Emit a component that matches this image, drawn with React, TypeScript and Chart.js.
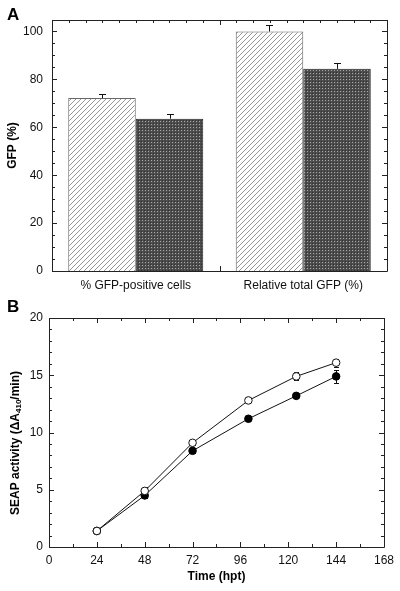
import React, { useEffect, useRef } from "react";
import { Chart, registerables } from "chart.js";

Chart.register(...registerables);

// ---------- Panel A data ----------
const categories = ["% GFP-positive cells", "Relative total GFP (%)"];
const hatchedValues = [72.2, 100];
const hatchedErrors = [1.8, 2.9];
const darkValues = [63.6, 84.4];
const darkErrors = [2.1, 2.6];
const gfpTicks = [0, 20, 40, 60, 80, 100];
const gfpMax = 104.8;

// ---------- Panel B data ----------
const timePoints = [24, 48, 72, 100, 124, 144];
const openValues = [1.4, 4.9, 9.1, 12.8, 14.9, 16.1];
const openErrors = [0.1, 0.3, 0.2, 0.2, 0.35, 0.35];
const filledValues = [1.4, 4.5, 8.4, 11.2, 13.2, 14.9];
const filledErrors = [0.1, 0.2, 0.2, 0.2, 0.2, 0.55];
const timeTickStep = 24;
const seapTickStep = 5;

const FONT = "'Liberation Sans', Arial, Helvetica, sans-serif";

function makeHatch(): CanvasPattern | string {
  const c = document.createElement("canvas");
  c.width = 5;
  c.height = 5;
  const g = c.getContext("2d");
  if (!g) return "#ddd";
  g.fillStyle = "#ffffff";
  g.fillRect(0, 0, 5, 5);
  g.strokeStyle = "#8a8a8a";
  g.lineWidth = 0.9;
  g.beginPath();
  g.moveTo(-1, 6);
  g.lineTo(6, -1);
  g.moveTo(-1, 1);
  g.lineTo(1, -1);
  g.moveTo(4, 6);
  g.lineTo(6, 4);
  g.stroke();
  return g.createPattern(c, "repeat") || "#ddd";
}

function makeDots(): CanvasPattern | string {
  const c = document.createElement("canvas");
  c.width = 3;
  c.height = 3;
  const g = c.getContext("2d");
  if (!g) return "#555";
  g.fillStyle = "#4c4c4c";
  g.fillRect(0, 0, 3, 3);
  g.fillStyle = "#a8a8a8";
  g.fillRect(1, 1, 1, 1);
  g.fillStyle = "#323232";
  g.fillRect(0, 0, 1, 1);
  return g.createPattern(c, "repeat") || "#555";
}

function tickLine(ctx: CanvasRenderingContext2D, x1: number, y1: number, x2: number, y2: number) {
  ctx.moveTo(x1, y1);
  ctx.lineTo(x2, y2);
}

const panelAPlugin = {
  id: "panelA",
  afterDatasetsDraw(chart: any) {
    const ctx: CanvasRenderingContext2D = chart.ctx;
    const { left, right, top, bottom } = chart.chartArea;
    const x = chart.scales.x;
    const y = chart.scales.y;
    ctx.save();
    ctx.strokeStyle = "#111";
    ctx.lineWidth = 1;
    const sets = [
      { vals: hatchedValues, errs: hatchedErrors, idx: 0 },
      { vals: darkValues, errs: darkErrors, idx: 1 },
    ];
    sets.forEach((s) => {
      const meta = chart.getDatasetMeta(s.idx);
      meta.data.forEach((bar: any, i: number) => {
        const px = Math.round(bar.x) + 0.5;
        const y0 = y.getPixelForValue(s.vals[i]);
        const y1 = Math.round(y.getPixelForValue(s.vals[i] + s.errs[i])) + 0.5;
        ctx.beginPath();
        tickLine(ctx, px, y0, px, y1);
        tickLine(ctx, px - 3.5, y1, px + 3.5, y1);
        ctx.stroke();
      });
    });
    ctx.strokeStyle = "#222";
    ctx.beginPath();
    ctx.rect(Math.round(left) + 0.5, Math.round(top) + 0.5, Math.round(right - left), Math.round(bottom - top));
    ctx.stroke();
    ctx.beginPath();
    for (let v = 0; v <= 100; v += 5) {
      const py = Math.round(y.getPixelForValue(v)) + 0.5;
      const len = v % 20 === 0 ? 5 : 3;
      tickLine(ctx, left, py, left + len, py);
      tickLine(ctx, right, py, right - len, py);
    }
    for (let k = 0; k <= 20; k++) {
      const px = Math.round(x.getPixelForValue(-0.5 + k * 0.1)) + 0.5;
      const len = k === 10 ? 5 : 3;
      tickLine(ctx, px, top, px, top + len);
    }
    const mid = Math.round(x.getPixelForValue(0.5)) + 0.5;
    tickLine(ctx, mid, bottom, mid, bottom - 5);
    ctx.stroke();
    ctx.fillStyle = "#000";
    ctx.font = `bold 17px ${FONT}`;
    ctx.textBaseline = "alphabetic";
    ctx.textAlign = "left";
    ctx.fillText("A", 7, 20);
    ctx.restore();
  },
};

const panelBPlugin = {
  id: "panelB",
  beforeDatasetsDraw(chart: any) {
    const ctx: CanvasRenderingContext2D = chart.ctx;
    const x = chart.scales.x;
    const y = chart.scales.y;
    ctx.save();
    ctx.strokeStyle = "#111";
    ctx.lineWidth = 1;
    const sets = [
      { vals: openValues, errs: openErrors },
      { vals: filledValues, errs: filledErrors },
    ];
    ctx.beginPath();
    sets.forEach((s) => {
      timePoints.forEach((t, i) => {
        const px = Math.round(x.getPixelForValue(t)) + 0.5;
        const yHi = Math.round(y.getPixelForValue(s.vals[i] + s.errs[i])) + 0.5;
        const yLo = Math.round(y.getPixelForValue(s.vals[i] - s.errs[i])) + 0.5;
        tickLine(ctx, px, yLo, px, yHi);
        tickLine(ctx, px - 2.5, yHi, px + 2.5, yHi);
        tickLine(ctx, px - 2.5, yLo, px + 2.5, yLo);
      });
    });
    ctx.stroke();
    ctx.restore();
  },
  afterDraw(chart: any) {
    const ctx: CanvasRenderingContext2D = chart.ctx;
    const { left, right, top, bottom } = chart.chartArea;
    const x = chart.scales.x;
    const y = chart.scales.y;
    ctx.save();
    ctx.strokeStyle = "#222";
    ctx.lineWidth = 1;
    ctx.beginPath();
    ctx.rect(Math.round(left) + 0.5, Math.round(top) + 0.5, Math.round(right - left), Math.round(bottom - top));
    ctx.stroke();
    ctx.beginPath();
    for (let v = 0; v <= 20; v += 1) {
      const py = Math.round(y.getPixelForValue(v)) + 0.5;
      const len = v % seapTickStep === 0 ? 5 : 3;
      tickLine(ctx, left, py, left + len, py);
      tickLine(ctx, right, py, right - len, py);
    }
    for (let t = 0; t <= 168; t += 12) {
      const px = Math.round(x.getPixelForValue(t)) + 0.5;
      const len = t % timeTickStep === 0 ? 5 : 3;
      tickLine(ctx, px, bottom, px, bottom - len);
      tickLine(ctx, px, top, px, top + len);
    }
    ctx.stroke();
    ctx.fillStyle = "#000";
    ctx.translate(16, 153);
    ctx.rotate(-Math.PI / 2);
    const big = `bold 12px ${FONT}`;
    const small = `bold 8px ${FONT}`;
    const parts: { t: string; f: string; dy: number }[] = [
      { t: "SEAP activity (\u0394A", f: big, dy: 0 },
      { t: "410", f: small, dy: 2.5 },
      { t: "/min)", f: big, dy: 0 },
    ];
    let total = 0;
    parts.forEach((p) => {
      ctx.font = p.f;
      total += ctx.measureText(p.t).width;
    });
    let cx = -total / 2;
    ctx.textBaseline = "middle";
    ctx.textAlign = "left";
    parts.forEach((p) => {
      ctx.font = p.f;
      ctx.fillText(p.t, cx, p.dy);
      cx += ctx.measureText(p.t).width;
    });
    ctx.restore();
    ctx.save();
    ctx.fillStyle = "#000";
    ctx.font = `bold 17px ${FONT}`;
    ctx.textBaseline = "alphabetic";
    ctx.fillText("B", 7, 22);
    ctx.restore();
  },
};

export default function App() {
  const refA = useRef<HTMLCanvasElement | null>(null);
  const refB = useRef<HTMLCanvasElement | null>(null);

  useEffect(() => {
    if (!refA.current || !refB.current) return;
    const hatch = makeHatch();
    const dots = makeDots();
    const tickFont = { family: FONT, size: 12 };
    const titleFont = { family: FONT, size: 12, weight: "bold" as const };

    const chartA = new Chart(refA.current, {
      type: "bar",
      data: {
        labels: categories,
        datasets: [
          {
            data: hatchedValues,
            backgroundColor: hatch as any,
            borderColor: "#666",
            borderWidth: 1,
            categoryPercentage: 0.806,
            barPercentage: 1,
          },
          {
            data: darkValues,
            backgroundColor: dots as any,
            borderColor: "#222",
            borderWidth: 1,
            categoryPercentage: 0.806,
            barPercentage: 1,
          },
        ],
      },
      options: {
        responsive: false,
        animation: false,
        devicePixelRatio: 1,
        layout: { padding: { left: 0, right: 13, top: 20, bottom: 0 } },
        plugins: { legend: { display: false }, tooltip: { enabled: false } },
        scales: {
          x: {
            grid: { display: false, drawTicks: false },
            border: { display: false },
            ticks: { color: "#111", font: tickFont, padding: 7, maxRotation: 0 },
            afterFit: (s: any) => {
              s.height = 29;
            },
          },
          y: {
            min: 0,
            max: gfpMax,
            grid: { display: false, drawTicks: false },
            border: { display: false },
            ticks: { color: "#111", font: tickFont, padding: 9 },
            afterBuildTicks: (s: any) => {
              s.ticks = gfpTicks.map((v) => ({ value: v }));
            },
            title: { display: true, text: "GFP (%)", color: "#000", font: titleFont, padding: { top: 5, bottom: 0 } },
            afterFit: (s: any) => {
              s.width = 52;
            },
          },
        },
      },
      plugins: [panelAPlugin],
    });

    const chartB = new Chart(refB.current, {
      type: "line",
      data: {
        datasets: [
          {
            data: timePoints.map((t, i) => ({ x: t, y: openValues[i] })),
            borderColor: "#111",
            borderWidth: 1,
            pointRadius: 3.8,
            pointBackgroundColor: "#ffffff",
            pointBorderColor: "#111",
            pointBorderWidth: 1,
            tension: 0,
          },
          {
            data: timePoints.map((t, i) => ({ x: t, y: filledValues[i] })),
            borderColor: "#111",
            borderWidth: 1,
            pointRadius: 3.8,
            pointBackgroundColor: "#000",
            pointBorderColor: "#000",
            pointBorderWidth: 1,
            tension: 0,
          },
        ],
      },
      options: {
        responsive: false,
        animation: false,
        devicePixelRatio: 1,
        layout: { padding: { left: 0, right: 13, top: 28, bottom: 0 } },
        plugins: { legend: { display: false }, tooltip: { enabled: false } },
        scales: {
          x: {
            type: "linear",
            min: 0,
            max: 168,
            grid: { display: false, drawTicks: false },
            border: { display: false },
            ticks: { stepSize: timeTickStep, color: "#111", font: tickFont, padding: 6, maxRotation: 0 },
            title: { display: true, text: "Time (hpt)", color: "#000", font: titleFont, padding: { top: 0, bottom: 7 } },
            afterFit: (s: any) => {
              s.height = 44;
            },
          },
          y: {
            min: 0,
            max: 20,
            grid: { display: false, drawTicks: false },
            border: { display: false },
            ticks: { stepSize: seapTickStep, color: "#111", font: tickFont, padding: 6 },
            afterFit: (s: any) => {
              s.width = 49;
            },
          },
        },
      },
      plugins: [panelBPlugin],
    });

    return () => {
      chartA.destroy();
      chartB.destroy();
    };
  }, []);

  return (
    <div style={{ position: "absolute", left: 0, top: 0, width: 400, height: 591, background: "#fff" }}>
      <canvas ref={refA} width={400} height={300} style={{ position: "absolute", left: 0, top: 0, width: 400, height: 300 }} />
      <canvas ref={refB} width={400} height={301} style={{ position: "absolute", left: 0, top: 290, width: 400, height: 301 }} />
    </div>
  );
}
